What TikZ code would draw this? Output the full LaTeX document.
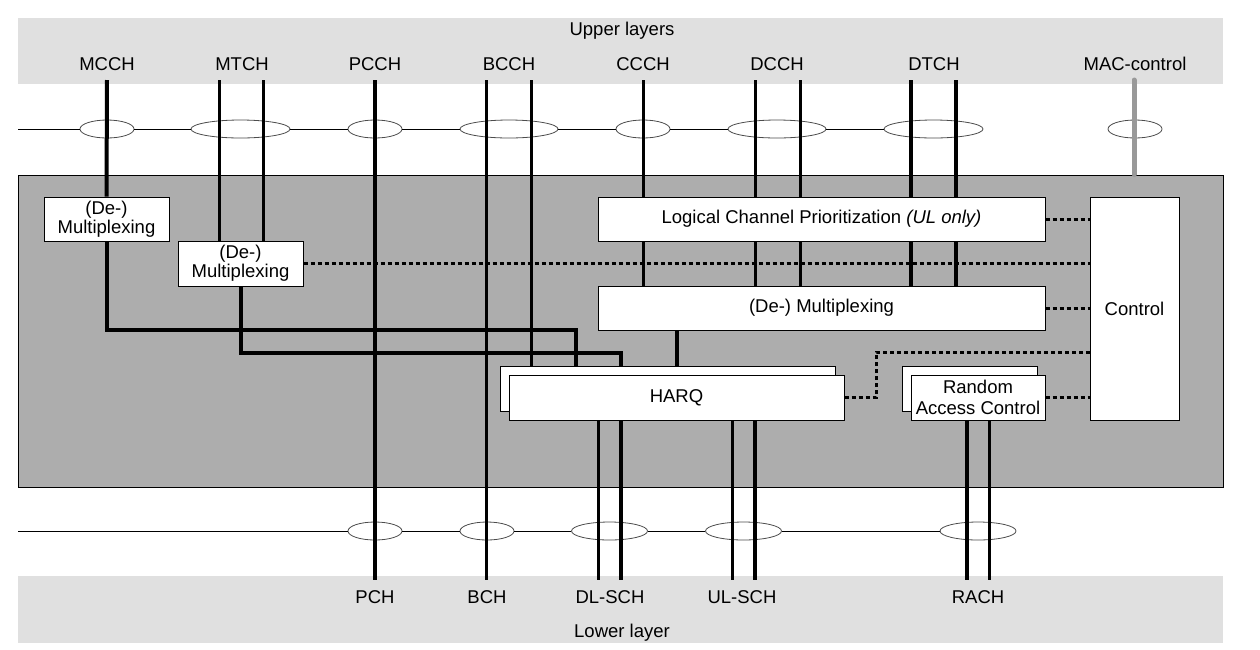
\documentclass[tikz,border=0pt]{standalone}
\usepackage{fontspec}
\setmainfont{Liberation Sans}
\usetikzlibrary{positioning,shapes.geometric}

\begin{document}
\begin{tikzpicture}[x=1pt, y=-1pt,
			font=\fontsize{18.5}{19}\selectfont,
			layerband/.style={rectangle, fill=black!12, draw=none, inner sep=0pt},
			macbox/.style={rectangle, draw, line width=1pt, fill=white, inner sep=0pt, align=center},
			oval/.style={ellipse, draw=black!70, line width=0.8pt, fill=white, minimum height=18, inner sep=0pt},
			chan/.style={line width=3pt},
			chanbold/.style={line width=4pt},
			ctrl/.style={line width=3pt, dash pattern=on 4pt off 3pt},
			]
			\useasboundingbox (0,0) rectangle (1260,649);
			%Layers
			\node[layerband, minimum width=1205, minimum height=66] (upper) at (620.5,51) {};
			\node[layerband, minimum width=1205, minimum height=67] (lower) at (620.5,609.5) {};
			\node[rectangle, draw, line width=1pt, fill=black!32, minimum width=1205, minimum height=312] (mac) at (620.5,331) {};
			\node[anchor=base] (upperlbl) at (622,35) {Upper layers};
			\node[anchor=base] (lowerlbl) at (622,637) {Lower layer};

			%Channel labels
			\node[anchor=base] (lMCCH) at (107,70)  {MCCH};
			\node[anchor=base] (lMTCH) at (242,70)  {MTCH};
			\node[anchor=base] (lPCCH) at (375,70)  {PCCH};
			\node[anchor=base] (lBCCH) at (509,70)  {BCCH};
			\node[anchor=base] (lCCCH) at (643,70)  {CCCH};
			\node[anchor=base] (lDCCH) at (777,70)  {DCCH};
			\node[anchor=base] (lDTCH) at (934,70)  {DTCH};
			\node[anchor=base] (lMAC)  at (1135,70) {MAC-control};
			\node[anchor=base] (lPCH)   at (375,603) {PCH};
			\node[anchor=base] (lBCH)   at (487,603) {BCH};
			\node[anchor=base] (lDLSCH) at (610,603) {DL-SCH};
			\node[anchor=base] (lULSCH) at (742,603) {UL-SCH};
			\node[anchor=base] (lRACH)  at (978,603) {RACH};

			%SAPs
			\coordinate (upL) at (18,129);
			\node[oval, minimum width=54] (eMCCH) at (107,129)   {};
			\node[oval, minimum width=99] (eMTCH) at (240.5,129) {};
			\node[oval, minimum width=54] (ePCCH) at (375,129)   {};
			\node[oval, minimum width=98] (eBCCH) at (509,129)   {};
			\node[oval, minimum width=54] (eCCCH) at (643,129)   {};
			\node[oval, minimum width=98] (eDCCH) at (777,129)   {};
			\node[oval, minimum width=99] (eDTCH) at (933.5,129) {};
			\node[oval, minimum width=54] (eMAC)  at (1135,129)  {};
			\draw[line width=1pt] (upL) -- (eMCCH) -- (eMTCH) -- (ePCCH) -- (eBCCH) -- (eCCCH) -- (eDCCH) -- (eDTCH);

			\coordinate (loL) at (18,531);
			\node[oval, minimum width=54] (ePCH)   at (375,531)   {};
			\node[oval, minimum width=54] (eBCH)   at (487,531)   {};
			\node[oval, minimum width=76] (eDLSCH) at (609.5,531) {};
			\node[oval, minimum width=76] (eULSCH) at (743.5,531) {};
			\node[oval, minimum width=76] (eRACH)  at (978,531)   {};
			\draw[line width=1pt] (loL) -- (ePCH) -- (eBCH) -- (eDLSCH) -- (eULSCH) -- (eRACH);

			%Entities
			\node[macbox, minimum width=125, minimum height=44] (mux1) at (106.5,219) {(De-)\\Multiplexing};
			\node[macbox, minimum width=125, minimum height=45] (mux2) at (240.5,263.5) {(De-)\\Multiplexing};
			\node[macbox, minimum width=447, minimum height=44] (lcp) at (821.5,219) {Logical Channel Prioritization \textit{(UL only)}};
			\node[macbox, minimum width=447, minimum height=44] (mux3) at (821.5,308) {(De-) Multiplexing};
			\node[macbox, minimum width=89, minimum height=223] (control) at (1134.5,308.5) {Control};
			\node[macbox, minimum width=335, minimum height=45] (harqB) at (667.5,388.5) {};
			\node[macbox, minimum width=335, minimum height=45] (harq) at (676.5,397.5) {HARQ};
			\node[macbox, minimum width=135, minimum height=45] (raB) at (969.5,388.5) {};
			\node[macbox, minimum width=134, minimum height=45, font=\fontsize{18.5}{21.5}\selectfont] (ra) at (978,397.5) {Random\\Access Control};

			%Logical channels
			\coordinate (tMCCH)  at (107,80);
			\coordinate (tMTCHa) at (219,80);
			\coordinate (tMTCHb) at (263,80);
			\coordinate (tPCCH)  at (375,80);
			\coordinate (tBCCHa) at (486,80);
			\coordinate (tBCCHb) at (531,80);
			\coordinate (tCCCH)  at (643,80);
			\coordinate (tDCCHa) at (755,80);
			\coordinate (tDCCHb) at (800,80);
			\coordinate (tDTCHa) at (911,80);
			\coordinate (tDTCHb) at (956,80);
			\coordinate (tMAC)   at (1134,80);
			\coordinate (jMCCH)  at (576,330);
			\coordinate (jMTCH)  at (621,353);

			\draw[chanbold] (tMCCH) -- (mux1.north);
			\draw[chanbold] (mux1.south) |- (jMCCH) -- (harqB.north -| jMCCH);
			\draw[chan] (tMTCHa) -- (mux2.north -| tMTCHa);
			\draw[chan] (tMTCHb) -- (mux2.north -| tMTCHb);
			\draw[chanbold] (mux2.south) |- (jMTCH) -- (harqB.north -| jMTCH);
			\draw[chan] (tBCCHb) -- (harqB.north -| tBCCHb);
			\foreach \c/\w in {tCCCH/chan, tDCCHa/chan, tDCCHb/chan, tDTCHa/chanbold, tDTCHb/chanbold} {
				\draw[\w] (\c) -- (lcp.north -| \c);
				\draw[\w] (lcp.south -| \c) -- (mux3.north -| \c);
			}
			\draw[chanbold] (mux3.south -| harq.north) -- (harqB.north -| harq.north);
			\draw[line width=5pt, black!40, line cap=round] (tMAC) -- (mac.north -| tMAC);

			%Transport channels
			\coordinate (bPCH)   at (375,580);
			\coordinate (bBCH)   at (486,580);
			\coordinate (bDLa)   at (598,580);
			\coordinate (bDLb)   at (621,580);
			\coordinate (bULa)   at (732,580);
			\coordinate (bULb)   at (755,580);
			\coordinate (bRAa)   at (967,580);
			\coordinate (bRAb)   at (989,580);

			\draw[chanbold] (tPCCH) -- (bPCH);
			\draw[chan] (tBCCHa) -- (bBCH);
			\draw[chan] (harq.south -| bDLa) -- (bDLa);
			\draw[chanbold] (harq.south -| bDLb) -- (bDLb);
			\draw[chan] (harq.south -| bULa) -- (bULa);
			\draw[chanbold] (harq.south -| bULb) -- (bULb);
			\draw[chanbold] (ra.south -| bRAa) -- (bRAa);
			\draw[chan] (ra.south -| bRAb) -- (bRAb);

			%Control
			\coordinate (jHARQ) at (876,352);
			\draw[ctrl] (lcp.east) -- (lcp.east -| control.west);
			\draw[ctrl] (mux2.east) -- (mux2.east -| control.west);
			\draw[ctrl] (mux3.east) -- (mux3.east -| control.west);
			\draw[ctrl] (harq.east) -| (jHARQ) -- (jHARQ -| control.west);
			\draw[ctrl] (ra.east) -- (ra.east -| control.west);
		\end{tikzpicture}
\end{document}
